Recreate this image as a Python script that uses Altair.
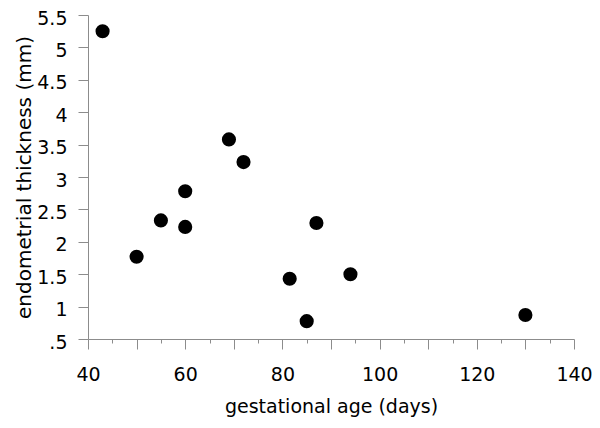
import altair as alt
import pandas as pd

# gestational age (days) and endometrial thickness (mm)
age_days = [43, 50, 55, 60, 60, 69, 72, 81.5, 85, 87, 94, 130]
thickness_mm = [5.25, 1.77, 2.33, 2.78, 2.23, 3.58, 3.23, 1.43, 0.775, 2.29, 1.50, 0.87]

x_ticks = list(range(40, 145, 5))
y_ticks = [0.5, 1, 1.5, 2, 2.5, 3, 3.5, 4, 4.5, 5, 5.5]

df = pd.DataFrame({"age": age_days, "thickness": thickness_mm})

FONT = "DejaVu Sans"
AX = "#8c8c8c"

chart = (
    alt.Chart(df)
    .mark_circle(color="black", opacity=1, size=200)
    .encode(
        x=alt.X(
            "age:Q",
            scale=alt.Scale(domain=[40, 140], nice=False, zero=False),
            axis=alt.Axis(
                title="gestational age (days)",
                values=x_ticks,
                labelExpr="datum.value % 20 == 0 ? toString(datum.value) : ''",
                tickSize={"condition": {"test": "datum.value % 10 == 0", "value": 10}, "value": 4},
                labelOverlap=False,
                labelFlush=False,
                grid=False,
                domainColor=AX,
                tickColor=AX,
                labelFont=FONT,
                labelFontSize=19,
                labelColor="black",
                labelPadding=16,
                titleFont=FONT,
                titleFontSize=19,
                titleFontWeight="normal",
                titleColor="black",
                titlePadding=13,
            ),
        ),
        y=alt.Y(
            "thickness:Q",
            scale=alt.Scale(domain=[0.5, 5.5], nice=False, zero=False),
            axis=alt.Axis(
                title="endometrial thickness (mm)",
                values=y_ticks,
                labelExpr="datum.value == 0.5 ? '.5' : toString(datum.value)",
                tickSize=10,
                labelOverlap=False,
                labelFlush=False,
                grid=False,
                domainColor=AX,
                tickColor=AX,
                labelFont=FONT,
                labelFontSize=19,
                labelColor="black",
                labelPadding=11,
                labelOffset=3,
                titleFont=FONT,
                titleFontSize=20,
                titleFontWeight="normal",
                titleColor="black",
                titlePadding=2,
            ),
        ),
    )
    .properties(
        width=486,
        height=324,
        autosize=alt.AutoSizeParams(type="none"),
        padding={"left": 80, "top": 7, "right": 18, "bottom": 81},
    )
    .configure(background="white")
    .configure_view(strokeWidth=0, stroke="transparent")
)

chart.save("out.html", embed_options={"renderer": "svg", "actions": False})
